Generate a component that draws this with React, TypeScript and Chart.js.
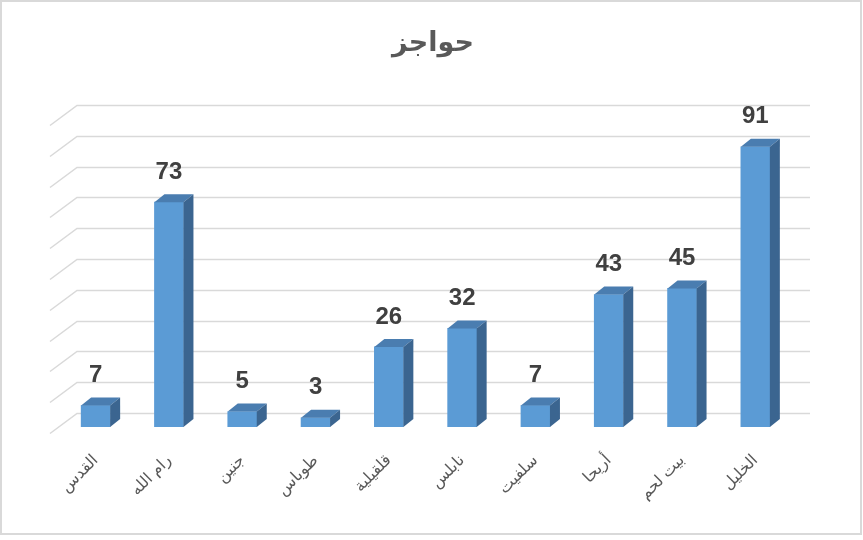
import React, { useEffect, useRef } from "react";
import { Chart, registerables } from "chart.js";

Chart.register(...registerables);

const TITLE = "حواجز";
const categories = ["القدس", "رام الله", "جنين", "طوباس", "قلقيلية", "نابلس", "سلفيت", "أريحا", "بيت لحم", "الخليل"];
const values = [7, 73, 5, 3, 26, 32, 7, 43, 45, 91];
const gridTicks = [0, 10, 20, 30, 40, 50, 60, 70, 80, 90, 100];

const FONT = "Arial, 'Liberation Sans', 'DejaVu Sans', sans-serif";
const DEPTH_X = 10;
const DEPTH_Y = 8;

const decorPlugin = {
  id: "decor",
  beforeDraw(chart: any) {
    const { ctx, width, height } = chart;
    ctx.save();
    ctx.fillStyle = "#ffffff";
    ctx.fillRect(0, 0, width, height);
    ctx.strokeStyle = "#d9d9d9";
    ctx.lineWidth = 2;
    ctx.strokeRect(1, 1, width - 3, height - 7);
    // title
    ctx.fillStyle = "#595959";
    ctx.font = `bold 27px ${FONT}`;
    ctx.textAlign = "center";
    ctx.textBaseline = "middle";
    ctx.fillText(TITLE, 433, 44);
    ctx.restore();
  },
  beforeDatasetsDraw(chart: any) {
    const { ctx, chartArea } = chart;
    const y = chart.scales.y;
    const backL = chartArea.left + 18;
    const backR = chartArea.right + 18;
    ctx.save();
    ctx.strokeStyle = "#d9d9d9";
    ctx.lineWidth = 1.5;
    for (const v of gridTicks) {
      const py = Math.round(y.getPixelForValue(v) - 14) + 0.5;
      ctx.beginPath();
      ctx.moveTo(backL - 27, py + 20);
      ctx.lineTo(backL, py);
      ctx.lineTo(backR, py);
      ctx.stroke();
    }
    ctx.restore();
  },
  afterDatasetsDraw(chart: any) {
    const { ctx } = chart;
    const meta = chart.getDatasetMeta(0);
    ctx.save();
    meta.data.forEach((bar: any, i: number) => {
      const { x, y, base, width } = bar.getProps(["x", "y", "base", "width"], true);
      const l = x - width / 2;
      const r = x + width / 2;
      // top face
      ctx.fillStyle = "#4a7db0";
      ctx.beginPath();
      ctx.moveTo(l, y);
      ctx.lineTo(l + DEPTH_X, y - DEPTH_Y);
      ctx.lineTo(r + DEPTH_X, y - DEPTH_Y);
      ctx.lineTo(r, y);
      ctx.closePath();
      ctx.fill();
      // side face
      ctx.fillStyle = "#3b6590";
      ctx.beginPath();
      ctx.moveTo(r, y);
      ctx.lineTo(r + DEPTH_X, y - DEPTH_Y);
      ctx.lineTo(r + DEPTH_X, base - DEPTH_Y);
      ctx.lineTo(r, base);
      ctx.closePath();
      ctx.fill();
      // value label
      ctx.fillStyle = "#404040";
      ctx.font = `bold 24px ${FONT}`;
      ctx.textAlign = "center";
      ctx.textBaseline = "middle";
      ctx.fillText(String(values[i]), x, y - 30);
    });
    ctx.restore();
  },
};

export default function App() {
  const ref = useRef<HTMLCanvasElement | null>(null);
  useEffect(() => {
    document.body.style.margin = "0";
    const canvas = ref.current!;
    const chart = new Chart(canvas, {
      type: "bar",
      data: {
        labels: categories,
        datasets: [
          {
            data: values,
            backgroundColor: "#5b9bd5",
            borderWidth: 0,
            barThickness: 29,
          },
        ],
      },
      options: {
        responsive: false,
        animation: false,
        layout: { padding: { left: 59, right: 71, top: 119, bottom: 0 } },
        plugins: {
          legend: { display: false },
          title: { display: false },
          tooltip: { enabled: false },
        },
        scales: {
          y: {
            display: false,
            min: 0,
            max: 100,
          },
          x: {
            grid: { display: false },
            border: { display: false },
            afterFit: (scale: any) => {
              scale.height = 113;
            },
            ticks: {
              color: "#595959",
              font: { size: 16, family: FONT },
              minRotation: 45,
              maxRotation: 45,
              padding: 16,
              autoSkip: false,
            },
          },
        },
      },
      plugins: [decorPlugin],
    });
    return () => chart.destroy();
  }, []);
  return <canvas ref={ref} width={863} height={540} style={{ display: "block" }} />;
}
